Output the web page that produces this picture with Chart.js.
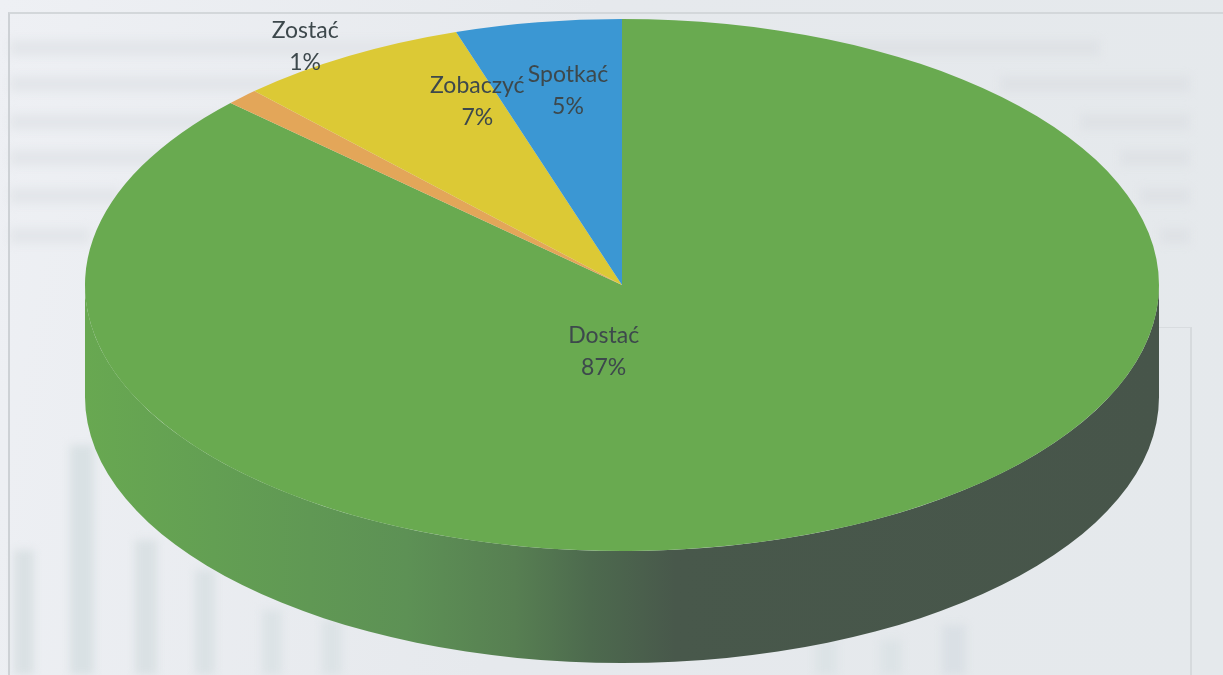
<!DOCTYPE html>
<html lang="pl">
<head>
<meta charset="utf-8">
<title>Dostać, Zostać, Zobaczyć, Spotkać</title>
<script src="https://cdn.jsdelivr.net/npm/chart.js@4"></script>
<style>
html,body{margin:0;padding:0;width:1223px;height:675px;overflow:hidden;background:#e7eaee}
#paper{position:absolute;inset:0;background:linear-gradient(100deg,#eef0f4 0%,#e6e9ed 45%,#e5e9ec 100%)}
#frame{position:absolute;left:8px;top:12px;width:1300px;height:800px;border-left:2px solid #cdd1d5;border-top:2px solid #d3d7da}
#inner{position:absolute;left:1100px;top:327px;width:90px;height:400px;border-top:1px solid #d8dcdf;border-right:2px solid #d6dadd}
#ghost{position:absolute;inset:0;filter:blur(4px);background-repeat:no-repeat;background-image:
 linear-gradient(#dae1e4,#dae1e4),linear-gradient(#d9e1e4,#d9e1e4),linear-gradient(#dae1e4,#dae1e4),
 linear-gradient(#dbe2e5,#dbe2e5),linear-gradient(#dce3e6,#dce3e6),linear-gradient(#dce3e6,#dce3e6),
 linear-gradient(#dce3e6,#dce3e6),linear-gradient(#dce3e6,#dce3e6),linear-gradient(#dae0e5,#dae0e5),
 linear-gradient(#dfe2e6,#dfe2e6),linear-gradient(#dfe2e6,#dfe2e6),linear-gradient(#dfe2e6,#dfe2e6),
 linear-gradient(#dfe2e6,#dfe2e6),linear-gradient(#dfe2e6,#dfe2e6),linear-gradient(#dfe2e6,#dfe2e6),
 linear-gradient(#e3e6ea,#e3e6ea),linear-gradient(#e3e6ea,#e3e6ea),linear-gradient(#e3e6ea,#e3e6ea),
 linear-gradient(#e3e6ea,#e3e6ea),linear-gradient(#e3e6ea,#e3e6ea),linear-gradient(#e3e6ea,#e3e6ea);
 background-size:20px 130px,24px 235px,22px 140px,20px 110px,20px 80px,20px 60px,22px 50px,22px 50px,24px 50px,
 290px 16px,190px 16px,110px 16px,70px 16px,50px 16px,30px 16px,
 440px 16px,290px 16px,210px 16px,160px 16px,110px 16px,80px 16px;
 background-position:14px 550px,70px 445px,135px 540px,195px 570px,262px 610px,322px 620px,880px 640px,815px 640px,942px 625px,
 810px 40px,1000px 76px,1080px 114px,1120px 150px,1140px 188px,1160px 228px,
 10px 40px,10px 76px,10px 114px,10px 150px,10px 188px,10px 228px}
canvas{position:absolute;left:0;top:0}
</style>
</head>
<body>
<div id="paper"></div><div id="ghost"></div><div id="frame"></div><div id="inner"></div>
<canvas id="c" width="1223" height="675"></canvas>
<script>
const categories = ['Dostać', 'Zostać', 'Zobaczyć', 'Spotkać'];
const shares = [87, 1, 7, 5];
const sliceColors = ['#69aa50', '#e3a659', '#dcc935', '#3b97d3'];

const CX = 622, CY = 285, RX = 537, RY = 266, DEPTH = 112;
const labelFont = '23px Lato';
const labelColor = '#3d484c';
const labelNudge = [[-125, -55], [-127, -144], [-8, -69], [-12, -63]];

const project = (arc, px, py) => {
  const k = [RX / arc.outerRadius, RY / arc.outerRadius];
  return [CX + (px - arc.x) * k[0], CY + (py - arc.y) * k[1]];
};

const tilted = {
  id: 'tilted',
  beforeDatasetsDraw(chart) {
    const { ctx } = chart;
    const arc = chart.getDatasetMeta(0).data[0];
    ctx.save();
    const g = ctx.createLinearGradient(CX - RX, 0, CX + RX, 0);
    g.addColorStop(0, '#68a851');
    g.addColorStop(0.12, '#639f53');
    g.addColorStop(0.3, '#5d9155');
    g.addColorStop(0.4, '#577f52');
    g.addColorStop(0.47, '#4d6a4e');
    g.addColorStop(0.55, '#48584b');
    g.addColorStop(1, '#47554a');
    ctx.fillStyle = g;
    ctx.beginPath();
    ctx.ellipse(CX, CY + DEPTH, RX, RY, 0, 0, Math.PI);
    ctx.ellipse(CX, CY, RX, RY, 0, Math.PI, 0, true);
    ctx.closePath();
    ctx.fill();
    ctx.translate(CX, CY);
    ctx.scale(RX / arc.outerRadius, RY / arc.outerRadius);
    ctx.translate(-arc.x, -arc.y);
  },
  afterDatasetsDraw(chart) {
    const { ctx } = chart;
    ctx.restore();
    ctx.save();
    ctx.font = labelFont;
    ctx.fillStyle = labelColor;
    ctx.textAlign = 'center';
    ctx.textBaseline = 'middle';
    chart.getDatasetMeta(0).data.forEach((arc, i) => {
      const c = arc.getCenterPoint();
      const [x, y] = project(arc, c.x, c.y);
      const lx = x + labelNudge[i][0], ly = y + labelNudge[i][1];
      ctx.fillText(categories[i], lx, ly - 16);
      ctx.fillText(shares[i] + '%', lx, ly + 16);
    });
    ctx.restore();
  }
};

new Chart(document.getElementById('c'), {
  type: 'pie',
  data: {
    labels: categories,
    datasets: [{ data: shares, backgroundColor: sliceColors, borderWidth: 0 }]
  },
  options: {
    responsive: false,
    animation: false,
    events: [],
    plugins: { legend: { display: false }, tooltip: { enabled: false }, title: { display: false } }
  },
  plugins: [tilted]
});
</script>
</body>
</html>
